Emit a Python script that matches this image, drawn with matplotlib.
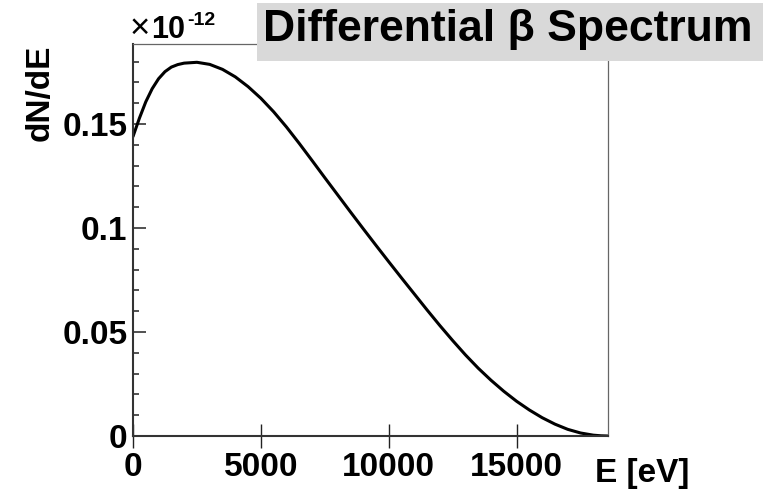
import matplotlib.pyplot as plt
from matplotlib.patches import Rectangle
from matplotlib.ticker import MultipleLocator

plt.rcParams['font.family'] = ['Liberation Sans', 'DejaVu Sans']
plt.rcParams['font.weight'] = 'bold'

# Spectrum (dN/dE in units of 1e-12)
energy = [0, 250, 500, 750, 1000, 1250, 1500, 1750, 2000, 2500, 3000, 3500,
          4000, 4500, 5000, 5500, 6000, 6500, 7000, 7500, 8000, 8500, 9000,
          9500, 10000, 10500, 11000, 11500, 12000, 12500, 13000, 13500, 14000,
          14500, 15000, 15500, 16000, 16500, 17000, 17500, 18000, 18300, 18574]
dnde = [0.1440, 0.1528, 0.1607, 0.1670, 0.1718, 0.1752, 0.1774, 0.1786,
        0.1793, 0.1797, 0.1787, 0.1763, 0.1727, 0.1680, 0.1624, 0.1559,
        0.1486, 0.1407, 0.1325, 0.1242, 0.1160, 0.1078, 0.0997, 0.0917,
        0.0838, 0.0760, 0.0683, 0.0606, 0.0531, 0.0459, 0.0390, 0.0326,
        0.0268, 0.0215, 0.0167, 0.0125, 0.0088, 0.0057, 0.0032, 0.00145,
        0.0004, 0.0001, 0.0]

x_ticks = [0, 5000, 10000, 15000]
y_ticks = [0, 0.05, 0.1, 0.15]
y_tick_labels = ['0', '0.05', '0.1', '0.15']

W, H = 782, 494

def px(x, y):
    # pixel position -> figure fraction
    return x / W, 1 - y / H

fig = plt.figure(figsize=(W / 100, H / 100), dpi=100)
ax = fig.add_axes([133 / W, 1 - 436 / H, (608 - 133) / W, (436 - 44) / H])

ax.plot(energy, dnde, color='black', lw=2.2, solid_capstyle='round',
        solid_joinstyle='round')
ax.set_xlim(0, 18574)
ax.set_ylim(0, 0.1885)

ax.set_xticks(x_ticks)
ax.set_xticklabels([str(t) for t in x_ticks])
ax.set_yticks(y_ticks)
ax.set_yticklabels(y_tick_labels)
ax.yaxis.set_minor_locator(MultipleLocator(0.01))

ax.tick_params(axis='x', direction='inout', length=17, width=1.0,
               labelsize=24, pad=3, color='#222222')
ax.tick_params(axis='y', which='major', direction='in', length=9, width=1.2,
               labelsize=24, pad=4, color='#333333')
ax.tick_params(axis='y', which='minor', direction='in', length=4.5, width=1.2,
               color='#333333')
ax.tick_params(top=False, right=False)

for s in ['top', 'right']:
    ax.spines[s].set_color('#666666')
    ax.spines[s].set_linewidth(0.9)
for s in ['left', 'bottom']:
    ax.spines[s].set_color('#333333')
    ax.spines[s].set_linewidth(1.5)

# axis titles
fig.text(*px(40, 45), 'dN/dE', rotation=90, ha='center', va='top', fontsize=24)
fig.text(*px(689, 473), 'E [eV]', ha='right', va='center', fontsize=24)

# exponent label
fig.text(*px(130, 38), '\u00d7', ha='left', va='baseline', fontsize=25,
         fontweight='normal')
fig.text(*px(151, 38), '10', ha='left', va='baseline', fontsize=22)
fig.text(*px(187, 25), '-12', ha='left', va='baseline', fontsize=14)

# title box
x0, y0 = px(257, 61)
x1, y1 = px(763, 3)
fig.patches.append(Rectangle((x0, y0), x1 - x0, y1 - y0, transform=fig.transFigure,
                             facecolor='#d9d9d9', edgecolor='none', zorder=5))
fig.text(*px(508, 30), 'Differential \u03b2 Spectrum', ha='center', va='center',
         fontsize=32, zorder=6)

fig.savefig('out.png', dpi=100)
